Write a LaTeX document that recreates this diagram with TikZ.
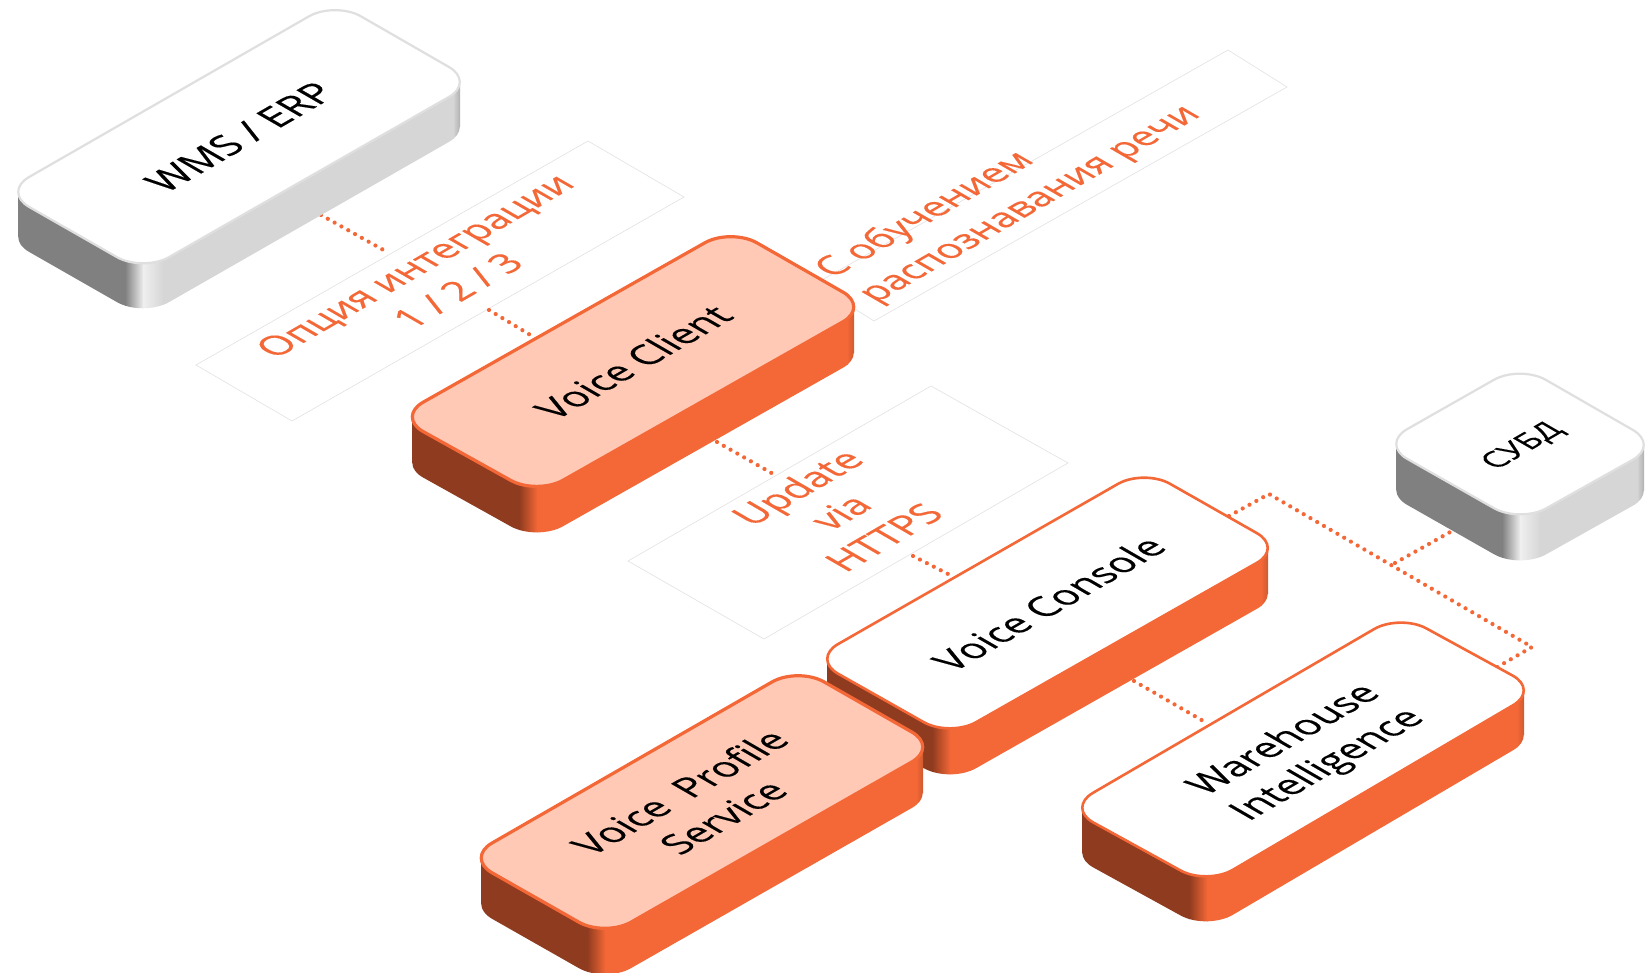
\documentclass[tikz,border=0pt]{standalone}
\usepackage{fontspec}
\setmainfont{Open Sans}[FakeBold=0.35]
\definecolor{odark}{HTML}{8F3B1F}
\definecolor{ohi}{HTML}{F46736}
\definecolor{olight}{HTML}{F46736}
\definecolor{oend}{HTML}{C9582F}
\definecolor{gdark}{HTML}{808080}
\definecolor{ghi}{HTML}{EFEFEF}
\definecolor{glight}{HTML}{D6D6D6}
\definecolor{gend}{HTML}{ABABAB}
\definecolor{peach}{HTML}{FFC9B5}
\definecolor{lineorange}{HTML}{F46736}
\definecolor{thin}{HTML}{E2E2E2}
\tikzset{
  every node/.style={inner sep=0pt,outer sep=0pt},
  isotext/.style={cm={.866,.5,-.866,.5,(0,0)},transform shape,align=center,font=\fontsize{19.2}{25}\selectfont},
  dots/.style={draw=lineorange,line width=2.1pt,line cap=round,dash pattern=on 0pt off 3.9pt},
  thinbox/.style={draw=thin,line width=.3pt,fill=white},
  topgray/.style={draw=gray!25,line width=1.1pt,fill=white},
  topwhite/.style={draw=lineorange,line width=1.3pt,fill=white},
  toppeach/.style={draw=lineorange,line width=1.6pt,fill=peach},
}
\def\getxy#1,#2\relax{\def\px{#1}\def\py{#2}}
\def\tdx{0}\def\tdy{0}
\newcommand\isobox[9]{%
  \getxy#2\relax\let\ax\px\let\ay\py
  \getxy#3\relax\let\bx\px\let\by\py
  \getxy#4\relax\let\cx\px\let\cy\py
  \getxy#5\relax\let\dx\px\let\dy\py
  \def\dep{#6}%
  \pgfmathsetmacro\ymin{min(\by,\ay)-5}
  \pgfmathsetmacro\ymax{\dy+\dep+5}
  \pgfmathsetmacro\xA{\dx-18}
  \pgfmathsetmacro\xB{\dx}
  \pgfmathsetmacro\xC{\dx+20}
  \pgfmathsetmacro\xD{\cx-22}
  \pgfmathsetmacro\xE{\cx-14}
  \pgfmathsetmacro\xL{\ax+15}
  \pgfmathsetmacro\xR{\cx-15}
  \pgfmathsetmacro\mx{(\ax+\cx)/2+\tdx}
  \pgfmathsetmacro\my{(\ay+\cy)/2+\tdy}
  \begin{scope}
    \clip[rounded corners=15pt] (\ax,\ay)--(\bx,\by)--(\cx,\cy)--(\dx,\dy)--cycle
      (\ax,\ay+\dep)--(\bx,\by+\dep)--(\cx,\cy+\dep)--(\dx,\dy+\dep)--cycle
      [sharp corners] (\xL,\ay)--(\xR,\cy)--(\xR,\cy+\dep)--(\xL,\ay+\dep)--cycle;
    \fill[#7dark] (\ax-5,\ymin) rectangle (\xA+.5,\ymax);
    \shade[left color=#7dark,right color=#7hi] (\xA,\ymin) rectangle (\xB+.5,\ymax);
    \shade[left color=#7hi,right color=#7light] (\xB,\ymin) rectangle (\xC+.5,\ymax);
    \fill[#7light] (\xC,\ymin) rectangle (\xD+.5,\ymax);
    \shade[left color=#7light,right color=#7end] (\xD,\ymin) rectangle (\xE,\ymax);
  \end{scope}
  \path[#8,rounded corners=15pt] (\ax,\ay)--(\bx,\by)--(\cx,\cy)--(\dx,\dy)--cycle;
  \path (\mx,\my) node[isotext] (#1) {#9};
}
\begin{document}
\begin{tikzpicture}[x=.5pt,y=-.5pt]
\useasboundingbox (0,0) rectangle (1646,973);
\fill[white] (0,0) rectangle (1646,973);
\clip (0,0) rectangle (1646,973);

% thin label panels
\draw[thinbox] (196,365)--(588,141)--(684,197)--(292,421)--cycle;
\draw[thinbox] (815,284)--(1228,50)--(1287,87)--(874,321)--cycle;
\draw[thinbox] (628,561)--(931,386)--(1068,463)--(764,639)--cycle;

% connector ends
\coordinate (wmsS) at (321,215);
\coordinate (optN) at (387,252);
\coordinate (optS) at (489,310);
\coordinate (cliN) at (532,336);
\coordinate (cliS) at (717,442);
\coordinate (updN) at (775,475);
\coordinate (updS) at (913,556);
\coordinate (conN) at (950,575);
\coordinate (conS) at (1134,681);
\coordinate (wiN) at (1205,722);
\coordinate (conE) at (1229,516);
\coordinate (bendA) at (1269,494);
\coordinate (bendB) at (1532,647);
\coordinate (wiE) at (1494,669);
\coordinate (junc) at (1395,563);
\coordinate (dbS) at (1452,531);
\draw[dots] (wmsS)--(optN);
\draw[dots] (optS)--(cliN);
\draw[dots] (cliS)--(updN);
\draw[dots] (updS)--(conN);
\draw[dots] (conS)--(wiN);
\draw[dots] (conE)--(bendA)--(bendB)--(wiE);
\draw[dots] (junc)--(dbS);

% boxes
\def\tdx{1}
\isobox{wms}{3,192}{335,1.4}{475,82}{143,272}{45}{g}{topgray}{\fontsize{19.7}{25}\selectfont WMS / ERP}
\def\tdx{0}
\isobox{cli}{397,417}{731,228}{869,307}{537,495}{46}{o}{toppeach}{Voice Client}
\def\tdx{1}
\isobox{con}{812,659}{1144,469}{1283,548}{950,737}{46}{o}{topwhite}{Voice Console}
\def\tdx{4}\def\tdy{4}
\isobox{wi}{1067,808}{1400,614}{1539,690}{1207,885}{45}{o}{topwhite}{Warehouse\\Intelligence}
\def\tdx{-1}\def\tdy{2}
\isobox{vps}{466,858}{798,667}{938,747}{605,937}{46}{o}{toppeach}{Voice~~Profile\\Service}
\def\tdx{3}\def\tdy{2}
\isobox{db}{1381,444}{1520,365}{1659,445}{1520,523}{46}{g}{topgray}{\fontsize{15.5}{20}\selectfont СУБД}

% labels
\path (436,278) node[isotext,text=lineorange,font=\fontsize{18.8}{25}\selectfont] (optL) {Опция интеграции\\1 / 2 / 3};
\path (1009,192) node[isotext,text=lineorange,align=left,font=\fontsize{18.5}{25}\selectfont] (spL) {С обучением\\распознавания речи};
\path (840,512) node[isotext,text=lineorange] (updL) {Update\\via\\HTTPS};
\end{tikzpicture}
\end{document}
